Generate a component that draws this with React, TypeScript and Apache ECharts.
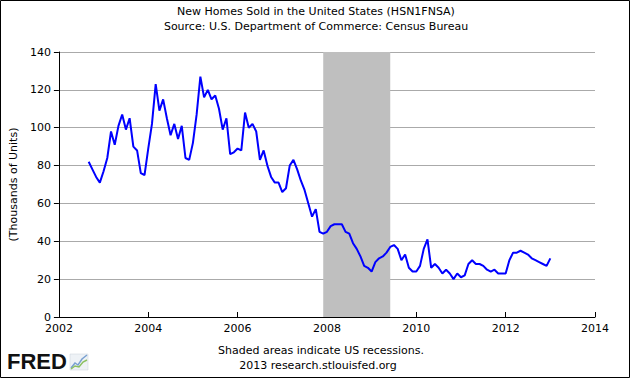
import React, { useEffect, useRef } from "react";
import * as echarts from "echarts";

const titleText = "New Homes Sold in the United States (HSN1FNSA)";
const subtitleText = "Source: U.S. Department of Commerce: Census Bureau";
const yAxisName = "(Thousands of Units)";
const footer1 = "Shaded areas indicate US recessions.";
const footer2 = "2013 research.stlouisfed.org";

// first observation: September 2002 (month index 8, zero-based)
const startYear = 2002;
const startMonth = 8;

const v2002 = [82, 78, 74, 71];
const v2003 = [77, 84, 98, 91, 101, 107, 99, 105, 90, 88, 76, 75];
const v2004 = [89, 102, 123, 109, 115, 105, 96, 102, 94, 101, 84, 83];
const v2005 = [92, 107, 127, 116, 120, 115, 117, 110, 99, 105, 86, 87];
const v2006 = [89, 88, 108, 100, 102, 98, 83, 88, 80, 74, 71, 71];
const v2007 = [66, 68, 80, 83, 78, 72, 67, 60, 53, 57, 45, 44];
const v2008 = [45, 48, 49, 49, 49, 45, 44, 39, 36, 32, 27, 26];
const v2009 = [24, 29, 31, 32, 34, 37, 38, 36, 30, 33, 26, 24];
const v2010 = [24, 27, 36, 41, 26, 28, 26, 23, 25, 23, 20, 23];
const v2011 = [21, 22, 28, 30, 28, 28, 27, 25, 24, 25, 23, 23];
const v2012 = [23, 30, 34, 34, 35, 34, 33, 31, 30, 29, 28, 27];
const v2013 = [31];

const recessionStart = [2007, 11]; // Dec 2007
const recessionEnd = [2009, 5]; // Jun 2009

const xTicks = [2002, 2004, 2006, 2008, 2010, 2012, 2014];
const yTicks = [0, 20, 40, 60, 80, 100, 120, 140];

export default function App() {
  const ref = useRef<HTMLDivElement>(null);
  useEffect(() => {
    document.body.style.margin = "0";
    if (!ref.current) return;
    const chart = echarts.init(ref.current, null, { renderer: "svg" });
    const values = [
      ...v2002, ...v2003, ...v2004, ...v2005, ...v2006, ...v2007,
      ...v2008, ...v2009, ...v2010, ...v2011, ...v2012, ...v2013,
    ];
    const data = values.map((v, i) => [startYear + (startMonth + i) / 12, v]);
    const recX0 = recessionStart[0] + recessionStart[1] / 12;
    const recX1 = recessionEnd[0] + recessionEnd[1] / 12;
    const font = "DejaVu Sans";
    chart.setOption({
      animation: false,
      backgroundColor: "#fff",
      textStyle: { fontFamily: font },
      grid: { left: 54, right: 35, top: 52, bottom: 61, containLabel: false },
      xAxis: {
        type: "value",
        min: xTicks[0],
        max: xTicks[xTicks.length - 1],
        interval: 2,
        axisLine: { lineStyle: { color: "#000", width: 1 } },
        axisTick: { inside: true, length: 5, lineStyle: { color: "#000" } },
        axisLabel: {
          color: "#000",
          fontSize: 11,
          fontFamily: font,
          margin: 6,
          formatter: (v: number) => String(v),
        },
        splitLine: { show: false },
      },
      yAxis: {
        type: "value",
        min: yTicks[0],
        max: yTicks[yTicks.length - 1],
        interval: 20,
        name: yAxisName,
        nameLocation: "middle",
        nameGap: 39,
        nameTextStyle: { color: "#000", fontSize: 11, fontFamily: font },
        axisLine: { show: true, lineStyle: { color: "#000", width: 1 } },
        axisTick: { show: true, length: 5, lineStyle: { color: "#000" } },
        axisLabel: { color: "#000", fontSize: 11, fontFamily: font, margin: 8 },
        splitLine: { show: true, lineStyle: { color: "#aaaaaa", width: 1 } },
      },
      series: [
        {
          type: "line",
          data: [],
          silent: true,
          markArea: {
            silent: true,
            itemStyle: { color: "#bfbfbf", opacity: 1 },
            data: [[{ xAxis: recX0 }, { xAxis: recX1 }]],
          },
        },
        {
          type: "line",
          data,
          showSymbol: false,
          symbol: "none",
          z: 5,
          lineStyle: { color: "#0000ff", width: 2 },
        },
      ],
      graphic: [
        {
          type: "rect",
          shape: { x: 0.5, y: 0.5, width: 629, height: 377 },
          style: { fill: "none", stroke: "#000", lineWidth: 1 },
          z: 100,
        },
        {
          type: "text",
          x: 316,
          y: 6,
          style: { text: titleText, fontSize: 11, fontFamily: font, fill: "#000", textAlign: "center" },
        },
        {
          type: "text",
          x: 316,
          y: 21,
          style: { text: subtitleText, fontSize: 11, fontFamily: font, fill: "#000", textAlign: "center" },
        },
        {
          type: "text",
          x: 321,
          y: 345,
          style: { text: footer1, fontSize: 11, fontFamily: font, fill: "#000", textAlign: "center" },
        },
        {
          type: "text",
          x: 318,
          y: 360,
          style: { text: footer2, fontSize: 11, fontFamily: font, fill: "#000", textAlign: "center" },
        },
        {
          type: "text",
          x: 7,
          y: 350,
          style: {
            text: "FRED",
            fontSize: 22,
            fontWeight: "bold",
            fontFamily: "Liberation Sans",
            fill: "#111",
          },
        },
        {
          type: "rect",
          shape: { x: 70, y: 354, width: 18, height: 16 },
          style: { fill: "#eef2f6", stroke: "#c8d0d8", lineWidth: 0.5 },
        },
        {
          type: "polyline",
          shape: { points: [[71, 368], [75, 363], [78, 365], [82, 359], [87, 355]] },
          style: { stroke: "#7aa0d0", lineWidth: 1.5, fill: "none" },
        },
        {
          type: "polyline",
          shape: { points: [[71, 369], [75, 366], [79, 367], [83, 362], [87, 360]] },
          style: { stroke: "#8cc060", lineWidth: 1.5, fill: "none" },
        },
      ],
    });
    return () => chart.dispose();
  }, []);
  return (
    <div
      ref={ref}
      style={{ position: "absolute", left: 0, top: 0, width: 630, height: 378 }}
    />
  );
}
